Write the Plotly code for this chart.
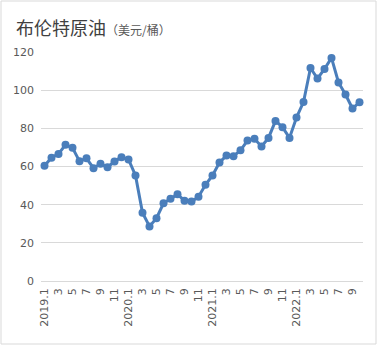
import plotly.graph_objects as go

# Brent crude monthly average price, USD per barrel (2019.1 – 2022.10)
months = [
    "2019.1", "2", "3", "4", "5", "6", "7", "8", "9", "10", "11", "12",
    "2020.1", "2", "3", "4", "5", "6", "7", "8", "9", "10", "11", "12",
    "2021.1", "2", "3", "4", "5", "6", "7", "8", "9", "10", "11", "12",
    "2022.1", "2", "3", "4", "5", "6", "7", "8", "9", "10",
]
prices = [
    60.4, 64.6, 66.6, 71.4, 69.8, 62.8, 64.3, 59.1, 61.4, 59.6, 62.6, 64.9,
    63.7, 55.3, 35.8, 28.6, 32.9, 40.7, 43.1, 45.4, 42.1, 41.6, 44.2, 50.4,
    55.3, 62.1, 65.7, 65.4, 68.5, 73.6, 74.5, 70.5, 75.0, 83.9, 80.6, 75.0,
    85.7, 93.8, 111.6, 106.1, 111.1, 116.9, 104.0, 97.7, 90.4, 93.7,
]
y_ticks = [0, 20, 40, 60, 80, 100, 120]

idx = list(range(len(months)))
shown = idx[::2]

fig = go.Figure(
    go.Scatter(
        x=idx,
        y=prices,
        mode="lines+markers",
        line=dict(color="#4a7ebb", width=3),
        marker=dict(color="#4a7ebb", size=8),
        cliponaxis=False,
        hoverinfo="skip",
    )
)

W, H = 378, 346
L, R, T, B = 41, 15, 52, 65
pw, ph = W - L - R, H - T - B

fig.update_layout(
    width=W,
    height=H,
    margin=dict(l=L, r=R, t=T, b=B),
    paper_bgcolor="white",
    plot_bgcolor="white",
    showlegend=False,
    font=dict(family="DejaVu Sans, sans-serif", color="#595959", size=11),
    xaxis=dict(
        range=[-0.5, len(months) - 0.5],
        tickmode="array",
        tickvals=shown,
        ticktext=[months[i] for i in shown],
        tickangle=-90,
        showgrid=False,
        zeroline=False,
        showline=False,
        ticks="",
        ticklabelstandoff=4,
        tickfont=dict(size=11, color="#595959"),
    ),
    yaxis=dict(
        range=[0, 120],
        tickmode="array",
        tickvals=y_ticks,
        showgrid=True,
        gridcolor="#d9d9d9",
        gridwidth=1,
        zeroline=True,
        zerolinecolor="#d9d9d9",
        zerolinewidth=1,
        showline=False,
        ticks="",
        ticklabelstandoff=6,
        tickfont=dict(size=11, color="#595959"),
    ),
    annotations=[
        dict(
            x=(14 - L) / pw,
            y=(H - B - 27) / ph,
            xref="paper",
            yref="paper",
            xanchor="left",
            yanchor="middle",
            showarrow=False,
            text="<span style='font-size:18px;color:#404040'>布伦特原油</span>"
                 "<span style='font-size:12px;color:#595959'>（美元/桶）</span>",
            font=dict(family="Noto Sans CJK SC"),
        )
    ],
    shapes=[
        dict(
            type="rect",
            xref="paper",
            yref="paper",
            x0=(1 - L) / pw,
            x1=(W - 2 - L) / pw,
            y0=(H - B - 344) / ph,
            y1=(H - B - 1) / ph,
            line=dict(color="#d9d9d9", width=1),
            layer="below",
        )
    ],
)

fig.write_html("out.html")
